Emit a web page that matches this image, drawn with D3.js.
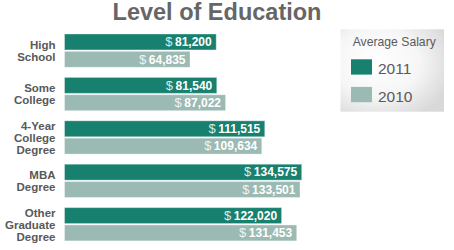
<!DOCTYPE html>
<html>
<head>
<meta charset="utf-8">
<script src="https://cdn.jsdelivr.net/npm/d3@7"></script>
<style>
  body { margin: 0; background: #fff; }
  svg { display: block; }
</style>
</head>
<body>
<svg id="chart" width="454" height="250"></svg>
<script>
const categories = [
  ['High', 'School'],
  ['Some', 'College'],
  ['4-Year', 'College', 'Degree'],
  ['MBA', 'Degree'],
  ['Other', 'Graduate', 'Degree']
];
const seriesNames = ['2011', '2010'];
const values2011 = [81200, 81540, 111515, 134575, 122020];
const values2010 = [64835, 87022, 109634, 133501, 131453];
const seriesColors = ['#17806f', '#9cbab4'];

const svg = d3.select('#chart');
const fmt = d3.format(',');

// bars start with a short stub left of the zero point
const barLeft = 64.5;
const x = d3.scaleLinear().domain([0, 150000]).range([86.2, 326.4]);

const y = d3.scaleBand()
  .domain(d3.range(categories.length))
  .range([34, 240.9])
  .paddingInner(0.233);

const ySub = d3.scaleBand()
  .domain(seriesNames)
  .range([0, y.bandwidth()])
  .paddingInner(0.08);

const color = d3.scaleOrdinal().domain(seriesNames).range(seriesColors);

// title
svg.append('text')
  .attr('x', 217)
  .attr('y', 20)
  .attr('text-anchor', 'middle')
  .attr('font-family', 'Liberation Sans, Arial, sans-serif')
  .attr('font-weight', 'bold')
  .attr('font-size', 23.5)
  .attr('fill', '#666')
  .text('Level of Education');

const rows = categories.map((c, i) => ({
  label: c,
  vals: [
    {series: '2011', value: values2011[i]},
    {series: '2010', value: values2010[i]}
  ]
}));

const groups = svg.selectAll('g.group')
  .data(rows)
  .join('g')
  .attr('class', 'group')
  .attr('transform', (d, i) => `translate(0,${y(i)})`);

// category labels
groups.each(function (d) {
  const g = d3.select(this);
  const n = d.label.length;
  const mid = y.bandwidth() / 2;
  const lh = 12;
  const t = g.append('text')
    .attr('text-anchor', 'end')
    .attr('font-family', 'Liberation Sans Narrow, Arial Narrow, Liberation Sans, sans-serif')
    .attr('font-weight', 'bold')
    .attr('font-size', 11.5)
    .attr('fill', '#595959');
  d.label.forEach((line, k) => {
    t.append('tspan')
      .attr('x', 55.5)
      .attr('y', mid + (k - (n - 1) / 2) * lh + 4.3)
      .text(line);
  });
});

// bars
const bars = groups.selectAll('g.bar')
  .data(d => d.vals)
  .join('g')
  .attr('class', 'bar')
  .attr('transform', d => `translate(0,${ySub(d.series)})`);

bars.append('rect')
  .attr('x', barLeft)
  .attr('y', 0)
  .attr('width', d => x(d.value) - barLeft)
  .attr('height', ySub.bandwidth())
  .attr('fill', d => color(d.series))
  .attr('stroke', 'rgba(255,255,255,0.35)')
  .attr('stroke-width', 1);

const lbl = bars.append('text')
  .attr('x', d => x(d.value) - 4.5)
  .attr('y', ySub.bandwidth() / 2 + 4.2)
  .attr('text-anchor', 'end')
  .attr('font-family', 'Liberation Sans, Arial, sans-serif')
  .attr('fill', '#fff');

lbl.append('tspan')
  .attr('font-size', 13)
  .attr('fill-opacity', 0.85)
  .text('$');
lbl.append('tspan')
  .attr('dx', 2.5)
  .attr('font-size', 12)
  .attr('font-weight', 'bold')
  .text(d => fmt(d.value));

// legend
const defs = svg.append('defs');
const grad = defs.append('radialGradient')
  .attr('id', 'legendBg')
  .attr('cx', '35%').attr('cy', '40%').attr('r', '75%');
grad.append('stop').attr('offset', '0%').attr('stop-color', '#ffffff');
grad.append('stop').attr('offset', '55%').attr('stop-color', '#f6f6f6');
grad.append('stop').attr('offset', '100%').attr('stop-color', '#d9d9d9');

const legend = svg.append('g').attr('transform', 'translate(340.5,29.3)');
legend.append('rect')
  .attr('width', 103.5)
  .attr('height', 82.4)
  .attr('fill', 'url(#legendBg)');

legend.append('text')
  .attr('x', 12.2)
  .attr('y', 16.7)
  .attr('font-family', 'Liberation Sans, Arial, sans-serif')
  .attr('font-weight', 300)
  .attr('font-size', 12.2)
  .attr('fill', '#5a5a5a')
  .text('Average Salary');

const item = legend.selectAll('g.item')
  .data(seriesNames)
  .join('g')
  .attr('class', 'item')
  .attr('transform', (d, i) => `translate(10.5,${30 + i * 27.6})`);

item.append('rect')
  .attr('width', 21)
  .attr('height', 15.3)
  .attr('fill', d => color(d));

item.append('text')
  .attr('x', 27)
  .attr('y', 15)
  .attr('font-family', 'Liberation Sans Narrow, Arial Narrow, Liberation Sans, sans-serif')
  .attr('font-size', 15.5)
  .attr('fill', '#5a5a5a')
  .text(d => d);
</script>
</body>
</html>
